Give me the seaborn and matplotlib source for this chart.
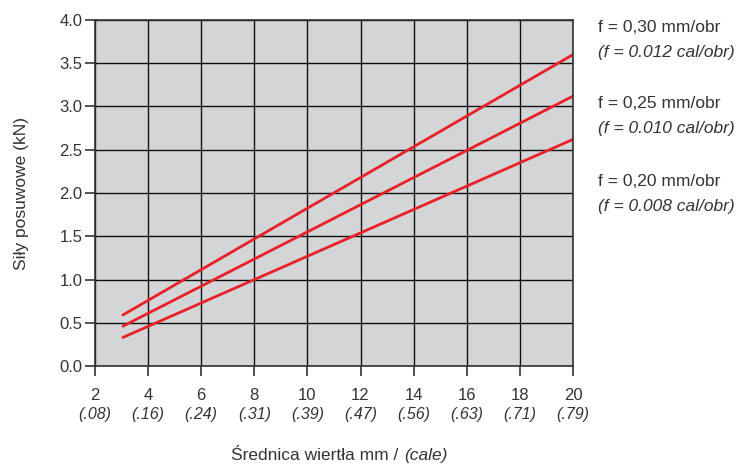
import pandas as pd
import seaborn as sns
import matplotlib.pyplot as plt

# feed rates and line end points
feeds = ['f = 0,30 mm/obr', 'f = 0,25 mm/obr', 'f = 0,20 mm/obr']
feeds_in = ['(f = 0.012 cal/obr)', '(f = 0.010 cal/obr)', '(f = 0.008 cal/obr)']
diam = [3.05, 20]
force_030 = [0.59, 3.60]
force_025 = [0.46, 3.12]
force_020 = [0.33, 2.62]

x_ticks = [2, 4, 6, 8, 10, 12, 14, 16, 18, 20]
x_inch = ['(.08)', '(.16)', '(.24)', '(.31)', '(.39)', '(.47)', '(.56)', '(.63)', '(.71)', '(.79)']
y_ticks = [0.0, 0.5, 1.0, 1.5, 2.0, 2.5, 3.0, 3.5, 4.0]

df = pd.DataFrame({
    'd': diam * 3,
    'F': force_030 + force_025 + force_020,
    'feed': [feeds[0]] * 2 + [feeds[1]] * 2 + [feeds[2]] * 2,
})

sns.set_style('ticks')
plt.rcParams['font.family'] = ['Liberation Sans', 'DejaVu Sans']
txt = '#333333'

fig = plt.figure(figsize=(7.38, 4.65), dpi=100)
ax = fig.add_axes([95 / 738, 99 / 465, 478 / 738, 346 / 465])
ax.set_facecolor('#d4d5d7')

sns.lineplot(data=df, x='d', y='F', units='feed', estimator=None,
             color='#e8202a', linewidth=2, ax=ax, legend=False)

ax.set_xlim(2, 20)
ax.set_ylim(0, 4)
ax.set_xticks(x_ticks)
ax.set_xticklabels([str(t) for t in x_ticks])
ax.set_yticks(y_ticks)
ax.set_yticklabels([f'{t:.1f}' for t in y_ticks])
ax.grid(True, color='#111111', linewidth=1)
ax.set_axisbelow(True)
for s in ax.spines.values():
    s.set_color('#333333')
    s.set_linewidth(1.2)
ax.tick_params(axis='both', colors='#333333', labelcolor=txt, labelsize=12,
               length=7, width=1.2)
ax.tick_params(axis='x', pad=8.5)
ax.tick_params(axis='y', pad=2)

for t, lab in zip(x_ticks, x_inch):
    ax.text(t, -0.555, lab, ha='center', va='center', style='italic',
            fontsize=11.5, color=txt, transform=ax.transData, clip_on=False)

ax.set_xlabel('')
ax.set_ylabel('Siły posuwowe (kN)', fontsize=12.5, color=txt, labelpad=22)

fig.text(403 / 738, 1 - 455 / 465, 'Średnica wiertła mm / ', ha='right', va='center',
         fontsize=12.5, color=txt)
fig.text(404 / 738, 1 - 455 / 465, '(cale)', ha='left', va='center',
         fontsize=12.5, color=txt, style='italic')

for i, (a, b) in enumerate(zip(feeds, feeds_in)):
    y0 = 27 + i * 77
    fig.text(598 / 738, 1 - y0 / 465, a, ha='left', va='center', fontsize=12.5, color=txt)
    fig.text(598 / 738, 1 - (y0 + 25) / 465, b, ha='left', va='center', fontsize=12.5,
             color=txt, style='italic')

fig.savefig('out.png', dpi=100)
